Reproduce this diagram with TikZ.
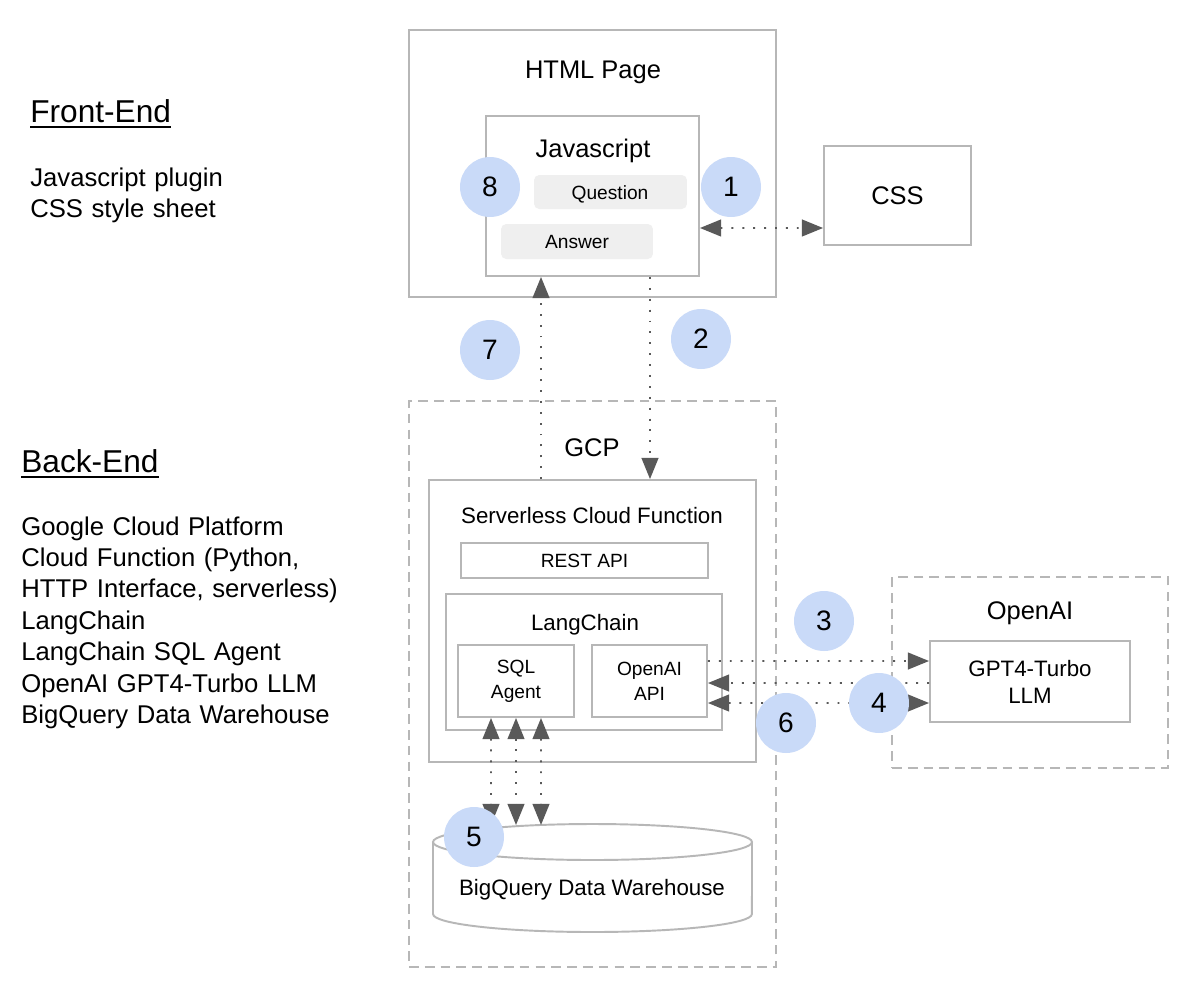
\documentclass[tikz,border=0pt]{standalone}
\usepackage{fontspec}
\setmainfont{Liberation Sans}
\usetikzlibrary{arrows.meta}
\definecolor{bgray}{HTML}{B7B7B7}
\definecolor{agray}{HTML}{595959}
\definecolor{cblue}{HTML}{C9DAF8}
\definecolor{pillgray}{HTML}{EFEFEF}
\begin{document}
\begin{tikzpicture}[x=0.02cm,y=-0.02cm,
  box/.style={draw=bgray, line width=1.1pt, fill=white, inner sep=0pt},
  dbox/.style={draw=bgray, line width=1.1pt, dash pattern=on 5.5pt off 3.5pt, inner sep=0pt},
  pillbox/.style={fill=pillgray, rounded corners=3pt, inner sep=0pt},
  lbl/.style={font=\fontsize{14.5}{17}\selectfont, inner sep=0pt},
  mlbl/.style={font=\fontsize{12.7}{15.3}\selectfont, inner sep=0pt},
  slbl/.style={font=\fontsize{10.9}{14.2}\selectfont, inner sep=0pt},
  num/.style={circle, fill=cblue, minimum size=1.2cm, inner sep=0pt, font=\fontsize{16}{19}\selectfont},
  flow/.style={draw=agray, line width=1.1pt, dash pattern=on 1.1pt off 5.1pt, -{Triangle[length=12pt,width=9.5pt]}},
  dflow/.style={draw=agray, line width=1.1pt, dash pattern=on 1.1pt off 5.1pt, {Triangle[length=12pt,width=9.5pt]}-{Triangle[length=12pt,width=9.5pt]}},
  head/.style={font=\fontsize{18}{22}\selectfont, inner sep=0pt, anchor=base west},
  listtxt/.style={font=\fontsize{14.6}{17.9}\selectfont, inner sep=0pt, anchor=base west, text width=9cm, align=left},
]
\fill[white] (0,0) rectangle (1192,994);
\useasboundingbox (0,0) rectangle (1192,994);

% ---------- left column ----------
\node[head] (fe) at (30,122) {Front-End};
\draw[line width=1.1pt] ([yshift=-2.9pt]fe.base west) -- ([yshift=-2.9pt]fe.base east);
\node[listtxt] (fel) at (30,186) {Javascript plugin\\CSS style sheet};
\node[head] (be) at (21,472) {Back-End};
\draw[line width=1.1pt] ([yshift=-2.9pt]be.base west) -- ([yshift=-2.9pt]be.base east);
\node[listtxt] (bel) at (21,535) {Google Cloud Platform\\Cloud Function (Python,\\HTTP Interface, serverless)\\LangChain\\LangChain SQL Agent\\OpenAI GPT4-Turbo LLM\\BigQuery Data Warehouse};

% ---------- front end ----------
\node[box, minimum width=7.34cm, minimum height=5.34cm] (html) at (592.5,163.5) {};
\node[lbl, anchor=base] (htmlt) at (593,78) {HTML Page};
\node[box, minimum width=4.26cm, minimum height=3.2cm] (js) at (592.5,196) {};
\node[lbl, anchor=base] (jst) at (593,157) {Javascript};
\node[pillbox, minimum width=3.06cm, minimum height=0.68cm] (qpill) at (610.5,192) {};
\node[slbl, anchor=base] (qt) at (610,199) {Question};
\node[pillbox, minimum width=3.04cm, minimum height=0.7cm] (apill) at (577,241.5) {};
\node[slbl, anchor=base] (at) at (577,248) {Answer};
\node[box, minimum width=2.94cm, minimum height=1.98cm, font=\fontsize{14.5}{17}\selectfont] (css) at (897.5,195.5) {CSS};

% ---------- back end ----------
\node[dbox, minimum width=7.34cm, minimum height=11.32cm] (gcp) at (592.5,684) {};
\node[lbl, anchor=base] (gcpt) at (592,456) {GCP};
\node[box, minimum width=6.54cm, minimum height=5.64cm] (scf) at (592.5,621) {};
\node[mlbl, anchor=base] (scft) at (592,523) {Serverless Cloud Function};
\node[box, minimum width=4.94cm, minimum height=0.7cm, font=\fontsize{10.9}{13}\selectfont] (rest) at (584.5,560.5) {REST API};
\node[box, minimum width=5.52cm, minimum height=2.72cm] (lang) at (584,662) {};
\node[mlbl, anchor=base] (langt) at (585,630) {LangChain};
\node[box, minimum width=2.32cm, minimum height=1.44cm, align=center, font=\fontsize{10.9}{14.2}\selectfont] (sql) at (516,681) {SQL\\Agent};
\node[box, minimum width=2.3cm, minimum height=1.44cm, align=center, font=\fontsize{10.9}{14.2}\selectfont] (oapi) at (649.5,681) {OpenAI\\API};

\node[dbox, minimum width=5.52cm, minimum height=3.82cm] (oai) at (1030,672.5) {};
\node[lbl, anchor=base] (oait) at (1030,619) {OpenAI};
\node[box, minimum width=4.0cm, minimum height=1.62cm, align=center, font=\fontsize{12.7}{15.3}\selectfont] (gpt) at (1030,681.5) {GPT4-Turbo\\LLM};

% cylinder
\draw[draw=bgray, line width=1.1pt, fill=white] (433,842) -- (433,914)
  arc[start angle=180, end angle=360, x radius=3.19cm, y radius=0.36cm] -- (752,842);
\draw[draw=bgray, line width=1.1pt, fill=white] (592.5,842) ellipse[x radius=3.19cm, y radius=0.36cm];
\node[mlbl, anchor=base] (bq) at (592,895) {BigQuery Data Warehouse};
\coordinate (bq1) at (491,825);
\coordinate (bq2) at (516,825);
\coordinate (bq3) at (541,825);

% ---------- connectors ----------
\draw[dflow] ([yshift=-0.64cm]js.east) -- ([yshift=-0.65cm]css.west);
\draw[flow] ([xshift=1.15cm]js.south) -- ([xshift=1.15cm]scf.north);
\draw[flow] ([xshift=-1.03cm]scf.north) -- ([xshift=-1.03cm]js.south);
\draw[flow] ([yshift=0.4cm]oapi.east) -- ([yshift=0.41cm]gpt.west);
\draw[flow] ([yshift=-0.03cm]gpt.west) -- ([yshift=-0.04cm]oapi.east);
\draw[dflow] ([yshift=-0.44cm]oapi.east) -- ([yshift=-0.43cm]gpt.west);
\draw[dflow] ([xshift=-0.5cm]sql.south) -- (bq1);
\draw[dflow] (sql.south) -- (bq2);
\draw[dflow] ([xshift=0.5cm]sql.south) -- (bq3);

% ---------- step numbers ----------
\node[num] (n1) at (731,187) {1};
\node[num] (n2) at (701,339) {2};
\node[num] (n3) at (824,621) {3};
\node[num] (n4) at (879,703) {4};
\node[num] (n5) at (474,837) {5};
\node[num] (n6) at (786,723) {6};
\node[num] (n7) at (490,350) {7};
\node[num] (n8) at (490,187) {8};
\end{tikzpicture}
\end{document}
